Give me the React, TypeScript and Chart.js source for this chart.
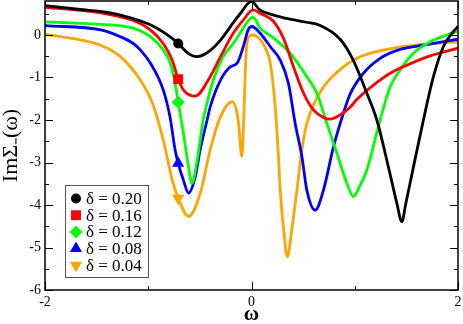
import React, { useEffect, useRef } from 'react';
import { Chart, registerables } from 'chart.js';
import { drawPoint } from 'chart.js/helpers';

Chart.register(...registerables);

// ---------------- data ----------------
const xTickValues = [-2, 0, 2];
const yTickValues = [-6, -5, -4, -3, -2, -1, 0];
const seriesLabels = ['δ = 0.20', 'δ = 0.16', 'δ = 0.12', 'δ = 0.08', 'δ = 0.04'];
const markerOmega = -0.71;

const blackX = [-2.0, -1.66, -1.46, -1.27, -0.98, -0.79, -0.71, -0.62, -0.53, -0.42, -0.30, -0.18, -0.11, 0.0, 0.08, 0.18, 0.34, 0.53, 0.66, 0.859, 0.985, 1.117, 1.214, 1.333, 1.408, 1.456, 1.495, 1.562, 1.665, 1.762, 1.859, 1.955, 2.0];
const blackY = [0.69, 0.60, 0.55, 0.47, 0.24, -0.04, -0.20, -0.42, -0.51, -0.40, -0.12, 0.28, 0.5, 0.79, 0.59, 0.49, 0.39, 0.30, 0.23, -0.1, -0.59, -1.37, -2.0, -3.18, -3.96, -4.39, -3.96, -3.18, -2.0, -0.98, -0.27, 0.08, 0.2];

const redX = [-2.0, -1.46, -1.145, -0.98, -0.855, -0.768, -0.71, -0.66, -0.545, -0.40, -0.30, -0.177, -0.08, 0.016, 0.09, 0.21, 0.31, 0.407, 0.504, 0.60, 0.697, 0.762, 0.859, 0.955, 1.02, 1.181, 1.343, 1.504, 1.73, 2.0];
const redY = [0.65, 0.52, 0.34, 0.12, -0.2, -0.59, -1.04, -1.29, -1.44, -0.98, -0.51, 0.04, 0.35, 0.59, 0.50, 0.33, -0.08, -0.75, -1.37, -1.76, -1.94, -1.98, -1.88, -1.7, -1.52, -1.18, -0.9, -0.71, -0.49, -0.31];

const greenX = [-2.0, -1.46, -1.145, -0.98, -0.855, -0.787, -0.74, -0.71, -0.66, -0.61, -0.577, -0.526, -0.468, -0.43, -0.37, -0.274, -0.177, -0.11, -0.04, 0.016, 0.084, 0.21, 0.375, 0.536, 0.633, 0.73, 0.827, 0.924, 0.987, 1.05, 1.117, 1.246, 1.343, 1.44, 1.569, 1.73, 1.892, 2.0];
const greenY = [0.31, 0.25, 0.16, -0.04, -0.35, -0.66, -1.13, -1.58, -2.3, -3.1, -3.49, -2.94, -2.0, -1.6, -1.06, -0.51, -0.2, 0.04, 0.31, 0.42, 0.16, -0.06, -0.43, -0.98, -1.37, -2.08, -2.78, -3.49, -3.80, -3.55, -3.18, -2.0, -1.22, -0.82, -0.43, -0.16, 0.0, 0.09];

const blueX = [-2.0, -1.46, -1.27, -1.145, -1.077, -0.98, -0.855, -0.79, -0.74, -0.71, -0.66, -0.61, -0.545, -0.497, -0.43, -0.40, -0.30, -0.206, -0.138, -0.08, -0.032, 0.004, 0.084, 0.181, 0.278, 0.358, 0.423, 0.488, 0.536, 0.617, 0.697, 0.794, 0.89, 0.955, 1.084, 1.246, 1.44, 1.665, 2.0];
const blueY = [0.22, 0.12, -0.04, -0.2, -0.35, -0.66, -1.29, -1.92, -2.7, -3.02, -3.41, -3.72, -3.34, -2.7, -2.0, -1.69, -1.06, -0.75, -0.66, -0.28, 0.12, 0.2, 0.04, -0.27, -0.59, -1.14, -2.08, -2.86, -3.65, -4.12, -3.65, -2.63, -1.84, -1.39, -0.9, -0.55, -0.34, -0.24, -0.1];

const orangeX = [-2.0, -1.46, -1.27, -1.077, -0.96, -0.855, -0.768, -0.71, -0.61, -0.497, -0.40, -0.30, -0.187, -0.129, -0.093, -0.07, -0.056, -0.036, 0.007, 0.045, 0.113, 0.15, 0.181, 0.23, 0.261, 0.278, 0.312, 0.348, 0.389, 0.44, 0.488, 0.536, 0.60, 0.697, 0.827, 0.955, 1.052, 1.246, 1.504, 1.762, 2.0];
const orangeY = [0.02, -0.24, -0.51, -1.06, -1.6, -2.47, -3.41, -3.84, -4.27, -3.73, -2.7, -1.92, -1.57, -2.0, -2.86, -1.6, -0.6, -0.1, 0.0, -0.02, -0.2, -0.4, -0.65, -1.69, -2.86, -3.65, -4.6, -5.22, -4.6, -3.65, -2.7, -2.08, -1.65, -1.22, -0.88, -0.64, -0.51, -0.37, -0.26, -0.2, -0.16];

// ---------------- styles ----------------
const SERIF = "'Liberation Serif', 'Times New Roman', serif";
const seriesColors = ['#000000', '#ff0000', '#00ff00', '#0000ff', '#ffa500'];
const seriesStyles = ['circle', 'rect', 'rectRot', 'triangle', 'triangle'];
const seriesRadius = [5, 7, 6.5, 7, 7];
const seriesRotation = [0, 0, 0, 0, 180];

const zip = (xs: number[], ys: number[]) => xs.map((x, i) => ({ x, y: ys[i] }));

const framePlugin = {
  id: 'frameTicks',
  afterDatasetsDraw(chart: any) {
    const { ctx, chartArea } = chart;
    const { left, right, top, bottom } = chartArea;
    const xs = chart.scales.x;
    const ys = chart.scales.y;
    ctx.save();
    ctx.strokeStyle = '#000';
    ctx.lineWidth = 1.5;
    ctx.strokeRect(left, top, right - left, bottom - top);
    ctx.lineWidth = 1;
    ctx.beginPath();
    for (let v = -2; v <= 2; v += 1) {
      const px = Math.round(xs.getPixelForValue(v)) + 0.5;
      const len = v % 2 === 0 ? 8 : 4;
      ctx.moveTo(px, bottom); ctx.lineTo(px, bottom - len);
      ctx.moveTo(px, top); ctx.lineTo(px, top + len);
    }
    for (let v = -6; v <= 0.5; v += 0.5) {
      const py = Math.round(ys.getPixelForValue(v)) + 0.5;
      const len = Number.isInteger(v) ? 8 : 4;
      ctx.moveTo(left, py); ctx.lineTo(left + len, py);
      ctx.moveTo(right, py); ctx.lineTo(right - len, py);
    }
    ctx.stroke();

    // x tick labels
    ctx.fillStyle = '#000';
    ctx.font = `14px ${SERIF}`;
    ctx.textAlign = 'center';
    ctx.textBaseline = 'middle';
    xTickValues.forEach((v) => {
      ctx.fillText(String(v), xs.getPixelForValue(v), bottom + 12);
    });

    // legend box
    const bx = 65.5, by = 185.5, bw = 83, bh = 92;
    ctx.fillStyle = '#fff';
    ctx.fillRect(bx, by, bw, bh);
    ctx.strokeStyle = '#555';
    ctx.lineWidth = 1;
    ctx.strokeRect(bx, by, bw, bh);
    ctx.font = `17px ${SERIF}`;
    ctx.textBaseline = 'middle';
    ctx.textAlign = 'left';
    seriesLabels.forEach((lab, i) => {
      const cy = 198.5 + i * 16.7;
      ctx.fillStyle = seriesColors[i];
      ctx.strokeStyle = seriesColors[i];
      drawPoint(ctx, {
        pointStyle: seriesStyles[i],
        radius: seriesRadius[i],
        rotation: seriesRotation[i],
        borderWidth: 0,
      } as any, 76, cy);
      ctx.fillStyle = '#000';
      ctx.fillText(lab, 86, cy + 1);
    });
    ctx.restore();
  },
};

export default function App() {
  const ref = useRef<HTMLCanvasElement | null>(null);
  useEffect(() => {
    document.body.style.margin = '0';
    const seriesX = [blackX, redX, greenX, blueX, orangeX];
    const seriesY = [blackY, redY, greenY, blueY, orangeY];
    const datasets = seriesLabels.map((label, i) => ({
      label,
      data: zip(seriesX[i], seriesY[i]),
      borderColor: seriesColors[i],
      backgroundColor: seriesColors[i],
      borderWidth: 2.8,
      fill: false,
      cubicInterpolationMode: 'monotone' as const,
      pointStyle: seriesStyles[i],
      pointRotation: seriesRotation[i],
      pointBorderWidth: 0,
      pointRadius: (c: any) => (c.raw && c.raw.x === markerOmega ? seriesRadius[i] : 0),
      pointHoverRadius: 0,
    }));
    const chart = new Chart(ref.current as HTMLCanvasElement, {
      type: 'line',
      data: { datasets },
      options: {
        responsive: false,
        animation: false,
        parsing: false as any,
        layout: { padding: { left: 0, right: 5, top: 1, bottom: 0 } },
        plugins: { legend: { display: false }, tooltip: { enabled: false } },
        scales: {
          x: {
            type: 'linear',
            min: -2,
            max: 2,
            grid: { display: false, drawTicks: false },
            border: { display: false },
            afterBuildTicks: (s: any) => { s.ticks = xTickValues.map((v) => ({ value: v })); },
            afterFit: (s: any) => { s.height = 34; s.paddingLeft = 0; s.paddingRight = 0; },
            ticks: { display: false },
            title: { display: true, text: 'ω', color: '#000', font: { family: SERIF, size: 21, weight: 'bold', lineHeight: 0.85 }, padding: { top: 0, bottom: 0 } },
          },
          y: {
            type: 'linear',
            min: -6,
            max: 0.8,
            grid: { display: false, drawTicks: false },
            border: { display: false },
            afterBuildTicks: (s: any) => { s.ticks = yTickValues.map((v) => ({ value: v })); },
            afterFit: (s: any) => { s.width = 45; s.paddingTop = 0; s.paddingBottom = 0; },
            ticks: { color: '#000', font: { family: SERIF, size: 14 }, padding: 4, callback: (v: any) => String(v) },
            title: { display: true, text: 'ImΣ₋(ω)', color: '#000', font: { family: SERIF, size: 22, lineHeight: 1.05 }, padding: { top: 0, bottom: 0 } },
          },
        },
      },
      plugins: [framePlugin],
    });
    return () => chart.destroy();
  }, []);
  return <canvas ref={ref} width={463} height={324} style={{ display: 'block' }} />;
}
